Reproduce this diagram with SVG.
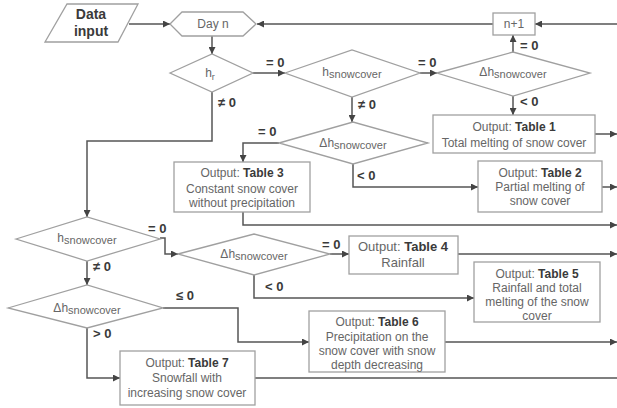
<svg xmlns="http://www.w3.org/2000/svg" width="617" height="408" viewBox="0 0 617 408">
<style>
.n{fill:#fff;stroke:#a0a0a0;stroke-width:1.3}
.t{font-family:"Liberation Sans",Arial,sans-serif;font-size:12px;fill:#666;text-anchor:middle}
.b{font-weight:bold;fill:#3a3a3a}
.c{fill:none;stroke:#555;stroke-width:1.5}
.l{font-family:"Liberation Sans",Arial,sans-serif;font-size:13px;font-weight:bold;fill:#3a3a3a}
</style>
<defs>
<marker id="a" markerUnits="userSpaceOnUse" markerWidth="7" markerHeight="7" refX="7" refY="3.5" orient="auto">
<path d="M0,0 L7,3.5 L0,7 z" fill="#444"/>
</marker>
</defs>
<rect width="617" height="408" fill="#fff"/>
<g id="connectors">
<path class="c" marker-end="url(#a)" d="M129,24 H170"/>
<path class="c" marker-end="url(#a)" d="M493,24 H257"/>
<path class="c" marker-end="url(#a)" d="M617,24 H535"/>
<path class="c" marker-end="url(#a)" d="M212,36 V54"/>
<path class="c" marker-end="url(#a)" d="M253,73 H285"/>
<path class="c" marker-end="url(#a)" d="M420,73 H437"/>
<path class="c" marker-end="url(#a)" d="M513,52 V35"/>
<path class="c" marker-end="url(#a)" d="M513,96 V115"/>
<path class="c" marker-end="url(#a)" d="M595,134 H617"/>
<path class="c" marker-end="url(#a)" d="M352,97 V122"/>
<path class="c" marker-end="url(#a)" d="M279,143 H243 V162"/>
<path class="c" marker-end="url(#a)" d="M353,164 V187 H478"/>
<path class="c" marker-end="url(#a)" d="M602,187 H617"/>
<path class="c" marker-end="url(#a)" d="M243,212 V225 H617"/>
<path class="c" marker-end="url(#a)" d="M212,92 V141 H87 V217"/>
<path class="c" marker-end="url(#a)" d="M160,238 H165 V254 H178"/>
<path class="c" marker-end="url(#a)" d="M330,254 H349"/>
<path class="c" marker-end="url(#a)" d="M458,254 H617"/>
<path class="c" marker-end="url(#a)" d="M254,275 V298 H474"/>
<path class="c" marker-end="url(#a)" d="M87,261 V285"/>
<path class="c" marker-end="url(#a)" d="M163,308 H238 V342 H309"/>
<path class="c" marker-end="url(#a)" d="M445,342 H617"/>
<path class="c" marker-end="url(#a)" d="M87,328 V378 H120"/>
<path class="c" d="M255,378 H617"/>
<text class="l" x="266" y="67">= 0</text>
<text class="l" x="418" y="67">= 0</text>
<text class="l" x="520" y="50">= 0</text>
<text class="l" x="520" y="106">&lt; 0</text>
<text class="l" x="218" y="107">≠ 0</text>
<text class="l" x="358" y="109">≠ 0</text>
<text class="l" x="258" y="136">= 0</text>
<text class="l" x="357" y="180">&lt; 0</text>
<text class="l" x="148" y="233">= 0</text>
<text class="l" x="93" y="271">≠ 0</text>
<text class="l" x="322" y="249">= 0</text>
<text class="l" x="265" y="291">&lt; 0</text>
<text class="l" x="176" y="300">≤ 0</text>
<text class="l" x="93" y="338">&gt; 0</text>
</g>
<g id="data-input">
<polygon class="n" points="67,4 138,4 118,42 45,42"/>
<text class="t b" x="91" y="19" style="font-size:14px">Data</text>
<text class="t b" x="91" y="36" style="font-size:14px">input</text>
</g>
<g id="day-n">
<polygon class="n" points="170,24 182,12 243,12 256,24 243,36 182,36"/>
<text class="t" x="213" y="28">Day n</text>
</g>
<g id="n-plus-1">
<rect class="n" x="493" y="13" width="42" height="22"/>
<text class="t" x="514" y="28">n+1</text>
</g>
<g id="hr">
<polygon class="n" points="170,73 212,54 253,73 212,92"/>
<text class="t" x="210" y="77">h<tspan font-size="9" dy="3">r</tspan></text>
</g>
<g id="hsnow1">
<polygon class="n" points="285,73 352,50 420,73 352,97"/>
<text class="t" x="352" y="76">h<tspan font-size="11" dy="2">snowcover</tspan></text>
</g>
<g id="dh1">
<polygon class="n" points="437,73 513,52 590,73 513,96"/>
<text class="t" x="513" y="76">Δh<tspan font-size="11" dy="2">snowcover</tspan></text>
</g>
<g id="table1">
<rect class="n" x="433" y="115" width="162" height="38"/>
<text class="t" x="514" y="131">Output: <tspan class="b">Table 1</tspan></text>
<text class="t" x="514" y="147">Total melting of snow cover</text>
</g>
<g id="dh2">
<polygon class="n" points="279,143 353,122 428,143 353,164"/>
<text class="t" x="353" y="147">Δh<tspan font-size="11" dy="2">snowcover</tspan></text>
</g>
<g id="table3">
<rect class="n" x="174" y="162" width="136" height="50"/>
<text class="t" x="242" y="177">Output: <tspan class="b">Table 3</tspan></text>
<text class="t" x="242" y="193">Constant snow cover</text>
<text class="t" x="242" y="207">without precipitation</text>
</g>
<g id="table2">
<rect class="n" x="478" y="161" width="124" height="51"/>
<text class="t" x="540" y="177">Output: <tspan class="b">Table 2</tspan></text>
<text class="t" x="540" y="191">Partial melting of</text>
<text class="t" x="540" y="205">snow cover</text>
</g>
<g id="hsnow2">
<polygon class="n" points="16,239 87,217 160,239 87,261"/>
<text class="t" x="87" y="242">h<tspan font-size="11" dy="2">snowcover</tspan></text>
</g>
<g id="dh3">
<polygon class="n" points="178,254 254,234 330,254 254,275"/>
<text class="t" x="254" y="258">Δh<tspan font-size="11" dy="2">snowcover</tspan></text>
</g>
<g id="table4">
<rect class="n" x="349" y="236" width="109" height="38"/>
<text class="t" x="403" y="251" style="font-size:13px">Output: <tspan class="b">Table 4</tspan></text>
<text class="t" x="403" y="267" style="font-size:13px">Rainfall</text>
</g>
<g id="table5">
<rect class="n" x="474" y="262" width="126" height="60"/>
<text class="t" x="537" y="278">Output: <tspan class="b">Table 5</tspan></text>
<text class="t" x="537" y="292">Rainfall and total</text>
<text class="t" x="537" y="306">melting of the snow</text>
<text class="t" x="537" y="320">cover</text>
</g>
<g id="dh4">
<polygon class="n" points="8,308 87,285 163,308 87,328"/>
<text class="t" x="87" y="312">Δh<tspan font-size="11" dy="2">snowcover</tspan></text>
</g>
<g id="table6">
<rect class="n" x="309" y="311" width="136" height="61"/>
<text class="t" x="377" y="326">Output: <tspan class="b">Table 6</tspan></text>
<text class="t" x="377" y="341">Precipitation on the</text>
<text class="t" x="377" y="355">snow cover with snow</text>
<text class="t" x="377" y="369">depth decreasing</text>
</g>
<g id="table7">
<rect class="n" x="120" y="351" width="135" height="54"/>
<text class="t" x="187" y="367">Output: <tspan class="b">Table 7</tspan></text>
<text class="t" x="187" y="382">Snowfall with</text>
<text class="t" x="187" y="397">increasing snow cover</text>
</g>
</svg>
